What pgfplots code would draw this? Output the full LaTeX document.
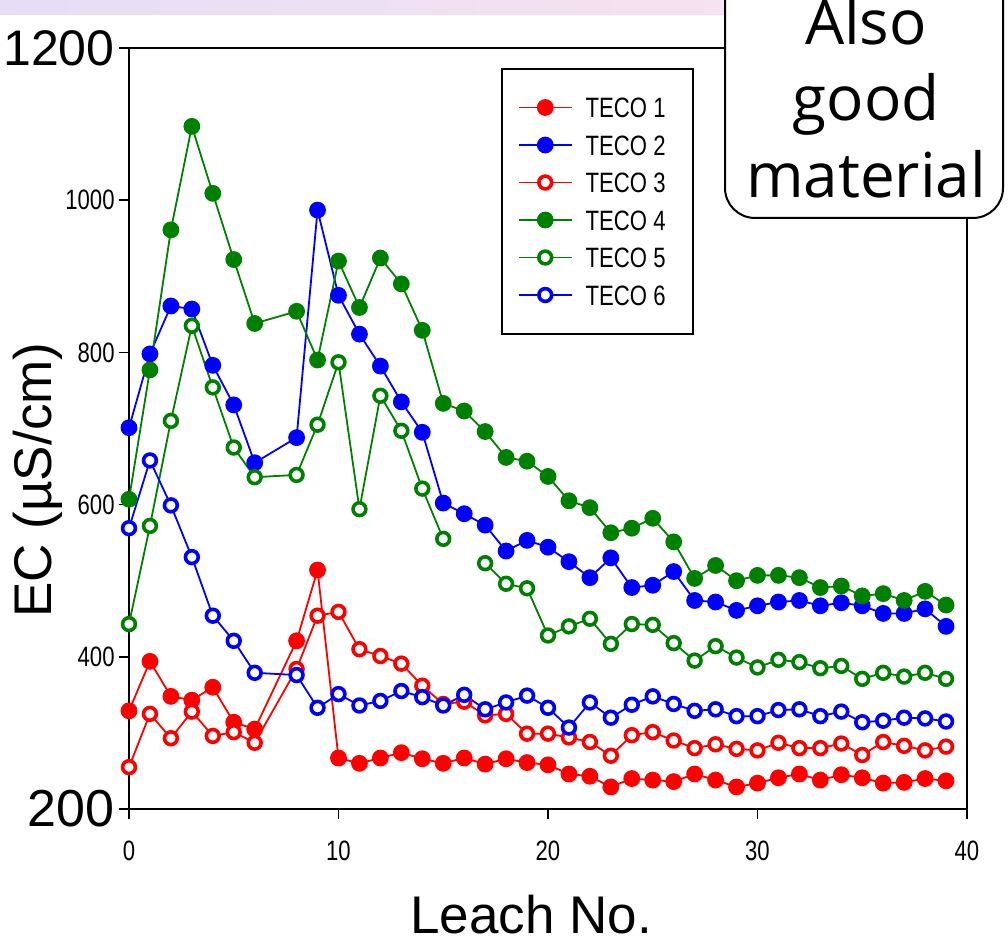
\documentclass[border=0pt]{standalone}
\usepackage{fontspec}
\setmainfont{Liberation Sans}
\newfontfamily\condensed[FakeStretch=0.79]{Liberation Sans}
\newfontfamily\calloutfont{Open Sans}
\usepackage{pgfplots}
\usepackage{pgfplotstable}
\pgfplotsset{compat=1.18}
\definecolor{tecored}{RGB}{255,0,0}
\definecolor{tecoblue}{RGB}{0,0,255}
\definecolor{tecogreen}{RGB}{0,128,0}
\definecolor{stripleft}{RGB}{230,222,246}
\definecolor{stripright}{RGB}{246,226,240}

% leach no. vs EC for the six materials (x = 7 was not measured)
\pgfplotstableread{
x  t1   t2   t3   t4    t5   t6
0  329  701  255  607   443  569
1  394  798  325  777   572  658
2  348  861  293  961   710  599
3  343  857  328  1097  835  531
4  360  783  296  1009  754  454
5  314  731  301  922   675  421
6  305  655  287  838   636  379
8  421  688  384  854   639  376
9  514  987  454  790   705  333
10 267  875  459  920   787  351
11 260  824  410  859   594  336
12 267  782  401  924   743  342
13 274  735  391  890   697  355
14 266  695  362  829   621  347
15 260  602  338  733   555  336
16 267  588  341  723   nan  350
17 259  573  323  696   523  331
18 266  539  325  662   496  340
19 261  553  299  657   490  349
20 258  544  299  637   428  333
21 246  525  294  605   440  307
22 243  504  288  596   450  340
23 229  530  270  563   417  320
24 240  491  297  569   443  337
25 238  494  301  582   442  348
26 236  512  290  551   418  338
27 246  474  280  503   395  329
28 238  472  285  520   414  331
29 229  461  279  500   399  322
30 234  467  277  507   386  322
31 241  472  287  507   396  330
32 246  474  280  504   393  331
33 238  467  280  491   385  322
34 245  471  286  493   388  328
35 241  467  271  480   371  314
36 234  457  288  483   379  316
37 235  457  283  474   374  320
38 240  463  277  486   379  319
39 237  440  282  468   371  315
}\ecdata

\begin{document}
\begin{tikzpicture}
% page = 1008 x 942 px at 0.5pt per px, axis box lower left at px (129,809)
\path[use as bounding box] (-64.5pt,-66.5pt) rectangle (439.5pt,404.5pt);

% slide header strip
\shade[left color=stripleft, right color=stripright]
    (-64.5pt,397pt) rectangle (298pt,404.5pt);

\begin{axis}[
    at={(0pt,0pt)}, anchor=south west,
    scale only axis,
    width=419pt, height=380.5pt,
    xmin=0, xmax=40, ymin=200, ymax=1200,
    xtick={0,10,20,30,40},
    xticklabels={0,10,20,30,40},
    ytick={200,400,600,800,1000,1200},
    yticklabels={{\normalfont\fontsize{26}{28}\selectfont 200},400,600,800,1000,{\normalfont\fontsize{25}{28}\selectfont 1200}},
    tick pos=left, tick align=outside,
    major tick length=5pt,
    tick style={black, line width=0.8pt},
    axis line style={black, line width=0.8pt},
    tick label style={font=\condensed\fontsize{14}{16}\selectfont},
    xticklabel style={yshift=-7.5pt},
    yticklabel style={inner xsep=2pt},
    xlabel={Leach No.},
    ylabel={EC (µS/cm)},
    label style={font=\fontsize{26.5}{30}\selectfont},
    xlabel style={at={(axis description cs:0.48,-0.163)}, anchor=base},
    ylabel style={at={(axis description cs:-0.0919,0.4323)}, anchor=base},
    unbounded coords=jump,
    clip=false,
    legend image code/.code={
        \draw[mark repeat=2, mark phase=2, #1]
            plot coordinates {(0pt,0pt) (13.25pt,0pt) (26.5pt,0pt)};
    },
    legend style={
        at={(0.4439,0.9737)}, anchor=north west,
        draw=black, line width=0.9pt,
        inner xsep=8pt, inner ysep=14.3pt,
        font=\condensed\fontsize{14}{16}\selectfont,
        nodes={inner sep=0pt, text height=10pt, text depth=0pt},
        row sep=8.75pt, column sep=6.5pt,
    },
    legend cell align=left,
    filled/.style={line width=0.9pt, mark=*, mark size=3.75pt,
        mark options={solid, fill=#1, line width=0.9pt}},
    ring/.style={line width=0.9pt, mark=*, mark size=3.2pt,
        mark options={solid, fill=white, draw=#1, line width=1.8pt}},
]

\addplot[tecored, filled=tecored] table[x=x, y=t1] {\ecdata};
\addlegendentry{\makebox[45.5pt][l]{TECO 1}}

\addplot[tecoblue, filled=tecoblue] table[x=x, y=t2] {\ecdata};
\addlegendentry{\makebox[45.5pt][l]{TECO 2}}

\addplot[tecored, ring=tecored] table[x=x, y=t3] {\ecdata};
\addlegendentry{\makebox[45.5pt][l]{TECO 3}}

\addplot[tecogreen, filled=tecogreen] table[x=x, y=t4] {\ecdata};
\addlegendentry{\makebox[45.5pt][l]{TECO 4}}

\addplot[tecogreen, ring=tecogreen] table[x=x, y=t5] {\ecdata};
\addlegendentry{\makebox[45.5pt][l]{TECO 5}}

\addplot[tecoblue, ring=tecoblue] table[x=x, y=t6] {\ecdata};
\addlegendentry{\makebox[45.5pt][l]{TECO 6}}

\end{axis}

% callout pasted over the top right corner
\filldraw[fill=white, draw=black, line width=1pt, rounded corners=15pt]
    (298pt,410pt) -- (298pt,295.5pt) -- (437pt,295.5pt) -- (437pt,410pt);
\begin{scope}[font=\calloutfont\fontsize{31}{36}\selectfont, inner sep=0pt]
\node[anchor=base] at (368.5pt,382pt) {Also};
\node[anchor=base] at (368.5pt,344pt) {good};
\node[anchor=base] at (368.5pt,305.5pt) {material};
\end{scope}
\end{tikzpicture}
\end{document}
